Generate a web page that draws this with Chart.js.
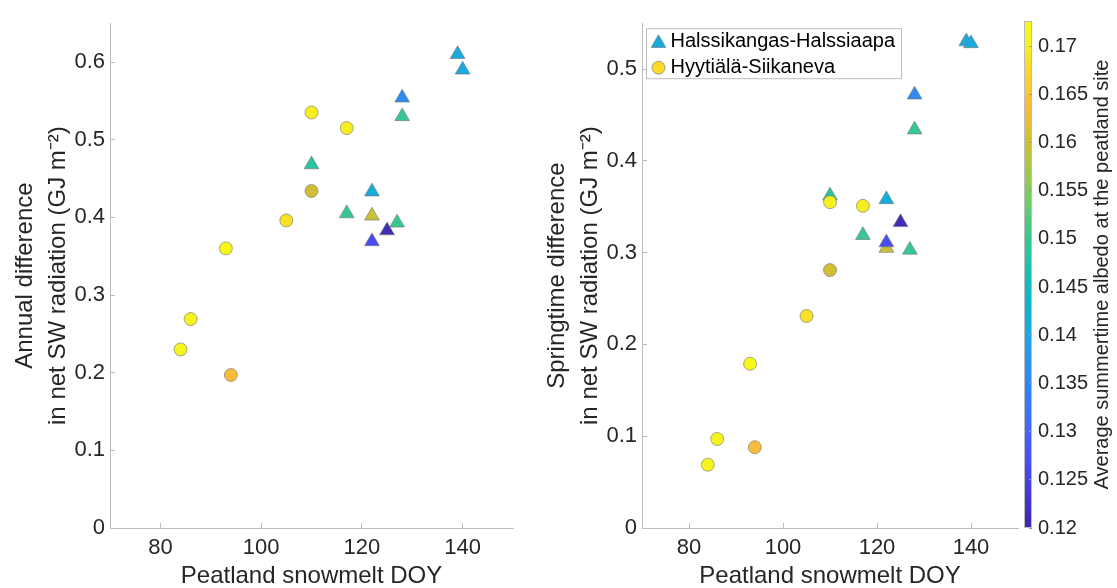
<!DOCTYPE html>
<html>
<head>
<meta charset="utf-8">
<script src="https://cdn.jsdelivr.net/npm/chart.js@4"></script>
<style>
  body { margin: 0; background: #fff; width: 1117px; height: 588px; overflow: hidden; position: relative; }
  .panel { position: absolute; top: 0; }
</style>
</head>
<body>
<div class="panel" style="left:0px"><canvas id="annualChart" width="530" height="588"></canvas></div>
<div class="panel" style="left:530px"><canvas id="springChart" width="500" height="588"></canvas></div>
<div class="panel" style="left:1000px"><canvas id="albedoBar" width="117" height="588"></canvas></div>
<script>
// Halssikangas-Halssiaapa (triangles)
var halsDoy    = [139, 140, 128, 128, 110, 122, 117, 122, 127, 125, 122];
var halsAnnual = [0.610, 0.590, 0.554, 0.530, 0.468, 0.433, 0.405, 0.402, 0.393, 0.383, 0.369];
var halsSpring = [0.530, 0.528, 0.472, 0.434, 0.362, 0.358, 0.319, 0.305, 0.303, 0.333, 0.311];
var halsAlbedo = [0.141, 0.141, 0.1358, 0.150, 0.1484, 0.1415, 0.150, 0.1597, 0.150, 0.121, 0.1267];

// Hyytiälä-Siikaneva (circles)
var hyyDoy    = [110, 117, 110, 105, 93, 86, 84, 94];
var hyyAnnual = [0.535, 0.515, 0.434, 0.396, 0.360, 0.269, 0.230, 0.197];
var hyySpring = [0.355, 0.351, 0.281, 0.231, 0.179, 0.097, 0.069, 0.088];
var hyyAlbedo = [0.1705, 0.170, 0.160, 0.1685, 0.172, 0.171, 0.171, 0.1637];

var xTicks = [80, 100, 120, 140];
var annualTicks = [0, 0.1, 0.2, 0.3, 0.4, 0.5, 0.6];
var springTicks = [0, 0.1, 0.2, 0.3, 0.4, 0.5];
var albedoTicks = [0.12, 0.125, 0.13, 0.135, 0.14, 0.145, 0.15, 0.155, 0.16, 0.165, 0.17];
var albedoMin = 0.12;
var albedoMax = 0.1726;

var ink = '#262626';
var axisGray = '#bdbdbd';
var markerEdge = 'rgba(120,120,120,0.8)';

Chart.defaults.font.family = '"Liberation Sans", Arial, Helvetica, sans-serif';
Chart.defaults.color = ink;

// parula colour map, every 4th entry of the 64-colour table
var parulaStops = [
  [0, 62, 38, 168], [4, 69, 55, 213], [8, 72, 77, 240], [12, 69, 99, 253],
  [16, 50, 124, 252], [20, 43, 145, 239], [24, 32, 165, 227], [28, 8, 181, 208],
  [32, 25, 191, 180], [36, 55, 200, 145], [40, 100, 205, 105], [44, 157, 201, 76],
  [48, 209, 191, 51], [52, 248, 186, 61], [56, 252, 207, 48], [60, 246, 239, 32],
  [63, 249, 251, 21]
];

function parula(t) {
  t = Math.max(0, Math.min(1, t)) * 63;
  for (var i = 1; i < parulaStops.length; i++) {
    var a = parulaStops[i - 1], b = parulaStops[i];
    if (t <= b[0]) {
      var f = (t - a[0]) / (b[0] - a[0]);
      return 'rgb(' + Math.round(a[1] + f * (b[1] - a[1])) + ',' +
        Math.round(a[2] + f * (b[2] - a[2])) + ',' +
        Math.round(a[3] + f * (b[3] - a[3])) + ')';
    }
  }
  return 'rgb(249,251,21)';
}

function albedoColor(a) {
  return parula((a - albedoMin) / (albedoMax - albedoMin));
}

function toPoints(xs, ys) {
  return xs.map(function (x, i) { return { x: x, y: ys[i] }; });
}

var siteLegend = {
  id: 'siteLegend',
  afterDraw: function (chart) {
    var ctx = chart.ctx;
    var x0 = chart.chartArea.left + 4.5, y0 = chart.chartArea.top + 5.5;
    ctx.save();
    ctx.fillStyle = '#fff';
    ctx.strokeStyle = axisGray;
    ctx.lineWidth = 1;
    ctx.fillRect(x0, y0, 255, 50);
    ctx.strokeRect(x0, y0, 255, 50);
    var rows = [
      { label: 'Halssikangas-Halssiaapa', style: 'triangle', radius: 8.5, color: albedoColor(0.1415) },
      { label: 'Hyytiälä-Siikaneva', style: 'circle', radius: 6.5, color: albedoColor(0.168) }
    ];
    rows.forEach(function (r, i) {
      var cy = y0 + 13 + i * 26;
      ctx.fillStyle = r.color;
      ctx.strokeStyle = markerEdge;
      ctx.lineWidth = 0.8;
      Chart.helpers.drawPoint(ctx, { pointStyle: r.style, radius: r.radius, borderWidth: 0.8, rotation: 0 }, x0 + 12, cy + (r.style === 'triangle' ? 1.5 : 0));
      ctx.fillStyle = '#000';
      ctx.font = '20px "Liberation Sans", Arial, sans-serif';
      ctx.textBaseline = 'middle';
      ctx.textAlign = 'left';
      ctx.fillText(r.label, x0 + 24, cy);
    });
    ctx.restore();
  }
};

function makePanel(id, halsY, hyyY, yMax, yTicks, yTitle, opts) {
  var ctx = document.getElementById(id).getContext('2d');
  return new Chart(ctx, {
    type: 'scatter',
    data: {
      datasets: [{
        label: 'Halssikangas-Halssiaapa',
        data: toPoints(halsDoy, halsY),
        pointStyle: 'triangle',
        pointRadius: 8.5,
        backgroundColor: halsAlbedo.map(albedoColor),
        borderColor: markerEdge,
        borderWidth: 0.8,
        order: 1
      }, {
        label: 'Hyytiälä-Siikaneva',
        data: toPoints(hyyDoy, hyyY),
        pointStyle: 'circle',
        pointRadius: 6.5,
        backgroundColor: hyyAlbedo.map(albedoColor),
        borderColor: markerEdge,
        borderWidth: 0.8,
        order: 0
      }]
    },
    plugins: opts.legend ? [siteLegend] : [],
    options: {
      responsive: false,
      animation: false,
      events: [],
      layout: { padding: { left: 0, right: opts.padRight, top: 17, bottom: 0 } },
      plugins: { legend: { display: false }, tooltip: { enabled: false } },
      scales: {
        x: {
          type: 'linear', min: 70, max: 150,
          afterBuildTicks: function (s) { s.ticks = xTicks.map(function (v) { return { value: v }; }); },
          afterFit: function (s) { s.height = 60; },
          grid: { drawOnChartArea: false, drawTicks: true, tickLength: -5, color: axisGray },
          border: { display: true, color: axisGray, width: 1 },
          ticks: { font: { size: 22 }, padding: 12, color: ink, callback: function (v) { return String(v); } },
          title: { display: true, text: 'Peatland snowmelt DOY', font: { size: 24, lineHeight: 1 }, padding: { top: 0, bottom: 0 }, color: ink }
        },
        y: {
          type: 'linear', min: 0, max: yMax,
          afterBuildTicks: function (s) { s.ticks = yTicks.map(function (v) { return { value: v }; }); },
          afterFit: function (s) { s.width = opts.axisWidth; },
          grid: { drawOnChartArea: false, drawTicks: true, tickLength: -5, color: axisGray },
          border: { display: true, color: axisGray, width: 1 },
          ticks: { font: { size: 22 }, padding: 10, color: ink, callback: function (v) { return String(v); } },
          title: { display: true, text: yTitle, font: { size: 24, lineHeight: 1.375 }, padding: { top: opts.titlePad, bottom: 0 }, color: ink }
        }
      }
    }
  });
}

var annualChart = makePanel('annualChart', halsAnnual, hyyAnnual, 0.65, annualTicks,
  ['Annual difference', 'in net SW radiation (GJ m\u207B\u00B2)'],
  { padRight: 17, axisWidth: 110, titlePad: 8.5, legend: false });

var springChart = makePanel('springChart', halsSpring, hyySpring, 0.55, springTicks,
  ['Springtime difference', 'in net SW radiation (GJ m\u207B\u00B2)'],
  { padRight: 12, axisWidth: 112, titlePad: 10.5, legend: true });

var barPaint = {
  id: 'barPaint',
  beforeDraw: function (chart) {
    var a = chart.chartArea, ctx = chart.ctx, y = chart.scales.y;
    var g = ctx.createLinearGradient(0, y.getPixelForValue(albedoMin), 0, y.getPixelForValue(albedoMax));
    parulaStops.forEach(function (s) {
      g.addColorStop(s[0] / 63, 'rgb(' + s[1] + ',' + s[2] + ',' + s[3] + ')');
    });
    ctx.save();
    ctx.fillStyle = g;
    ctx.fillRect(a.left, a.top, a.right - a.left, a.bottom - a.top);
    ctx.strokeStyle = axisGray;
    ctx.lineWidth = 1;
    ctx.strokeRect(a.left + 0.5, a.top + 0.5, a.right - a.left - 1, a.bottom - a.top - 1);
    ctx.restore();
  },
  afterDraw: function (chart) {
    var ctx = chart.ctx, a = chart.chartArea;
    ctx.save();
    ctx.translate(102, (a.top + a.bottom) / 2);
    ctx.rotate(-Math.PI / 2);
    ctx.fillStyle = ink;
    ctx.font = '20px "Liberation Sans", Arial, sans-serif';
    ctx.textAlign = 'center';
    ctx.textBaseline = 'middle';
    ctx.fillText('Average summertime albedo at the peatland site', 0, 0);
    ctx.restore();
  }
};

var albedoBar = new Chart(document.getElementById('albedoBar').getContext('2d'), {
  type: 'scatter',
  data: { datasets: [] },
  plugins: [barPaint],
  options: {
    responsive: false,
    animation: false,
    events: [],
    layout: { padding: { left: 24, right: 0, top: 17, bottom: 60 } },
    plugins: { legend: { display: false }, tooltip: { enabled: false } },
    scales: {
      x: { display: false },
      y: {
        type: 'linear', position: 'right', min: albedoMin, max: albedoMax,
        afterBuildTicks: function (s) { s.ticks = albedoTicks.map(function (v) { return { value: v }; }); },
        afterFit: function (s) { s.width = 85; },
        grid: { drawOnChartArea: false, drawTicks: true, tickLength: -3, color: '#9a9a9a' },
        border: { display: false },
        ticks: { font: { size: 20 }, padding: 9, color: ink, callback: function (v) { return String(v); } }
      }
    }
  }
});
</script>
</body>
</html>
